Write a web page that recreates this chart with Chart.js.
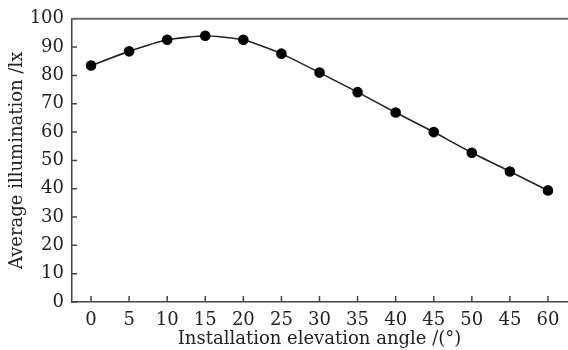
<!DOCTYPE html>
<html>
<head>
<meta charset="utf-8">
<script src="https://cdn.jsdelivr.net/npm/chart.js@4"></script>
<style>
  html, body { margin: 0; padding: 0; background: #fff; }
  #wrap { width: 568px; height: 350px; }
</style>
</head>
<body>
<div id="wrap"><canvas id="illumChart"></canvas></div>
<script>
    // angle labels as printed on the original (second "45" is in the source figure)
    const angleLabels = ['0', '5', '10', '15', '20', '25', '30', '35', '40', '45', '50', '45', '60'];
    const avgIllumination = [83.5, 88.5, 92.6, 94.0, 92.6, 87.7, 81.0, 74.1, 66.9, 60.0, 52.7, 46.1, 39.4];
    const yMin = 0;
    const yMax = 100;
    const yStep = 10;

    const serif = "'DejaVu Serif', 'Liberation Serif', serif";

    // ticks pointing into the plot, plus the top frame
    const frameTicks = {
        id: 'frameTicks',
        afterDatasetsDraw(chart) {
            const c = chart.ctx;
            const area = chart.chartArea;
            const xs = chart.scales.x;
            const ys = chart.scales.y;
            c.save();
            c.strokeStyle = '#444';
            c.lineWidth = 1.5;
            c.beginPath();
            xs.ticks.forEach((t, i) => {
                const px = xs.getPixelForTick(i);
                c.moveTo(px, area.bottom);
                c.lineTo(px, area.bottom - 6);
            });
            ys.ticks.forEach((t, i) => {
                const py = ys.getPixelForTick(i);
                c.moveTo(area.left, py);
                c.lineTo(area.left + 5, py);
            });
            c.stroke();
            c.strokeStyle = '#6a6a6a';
            c.lineWidth = 2;
            c.beginPath();
            c.moveTo(area.left, area.top);
            c.lineTo(chart.width, area.top);
            c.stroke();
            c.restore();
        }
    };

    const ctx = document.getElementById('illumChart').getContext('2d');
    const illumChart = new Chart(ctx, {
        type: 'line',
        data: {
            labels: angleLabels,
            datasets: [{
                label: 'Average illumination',
                data: avgIllumination,
                borderColor: '#222',
                borderWidth: 1.6,
                backgroundColor: '#000',
                pointBackgroundColor: '#000',
                pointBorderColor: '#000',
                pointRadius: 4.5,
                tension: 0.15,
                fill: false
            }]
        },
        options: {
            responsive: true,
            maintainAspectRatio: false,
            animation: false,
            layout: { autoPadding: false, padding: { top: 15, right: 1, left: 0, bottom: 0 } },
            plugins: {
                legend: { display: false },
                tooltip: { enabled: false }
            },
            scales: {
                x: {
                    type: 'category',
                    offset: true,
                    grid: { display: false, drawTicks: false },
                    border: { display: true, color: '#444', width: 1.5 },
                    ticks: {
                        color: '#222',
                        padding: 8,
                        maxRotation: 0,
                        autoSkip: false,
                        font: { family: serif, size: 18 }
                    },
                    title: {
                        display: true,
                        text: 'Installation elevation angle /(°)',
                        color: '#222',
                        padding: { top: 0, bottom: 0 },
                        font: { family: serif, size: 18 }
                    },
                    afterFit(scale) {
                        scale.height = 48;
                        scale.paddingLeft = 0;
                        scale.paddingRight = 0;
                    }
                },
                y: {
                    min: yMin,
                    max: yMax,
                    grid: { display: false, drawTicks: false },
                    border: { display: true, color: '#444', width: 1.5 },
                    ticks: {
                        stepSize: yStep,
                        color: '#222',
                        padding: 8,
                        font: { family: serif, size: 18 }
                    },
                    title: {
                        display: true,
                        text: 'Average illumination /lx',
                        color: '#222',
                        padding: { top: 7, bottom: 0 },
                        font: { family: serif, size: 18 }
                    },
                    afterFit(scale) { scale.width = 72; }
                }
            }
        },
        plugins: [frameTicks]
    });
</script>
</body>
</html>
